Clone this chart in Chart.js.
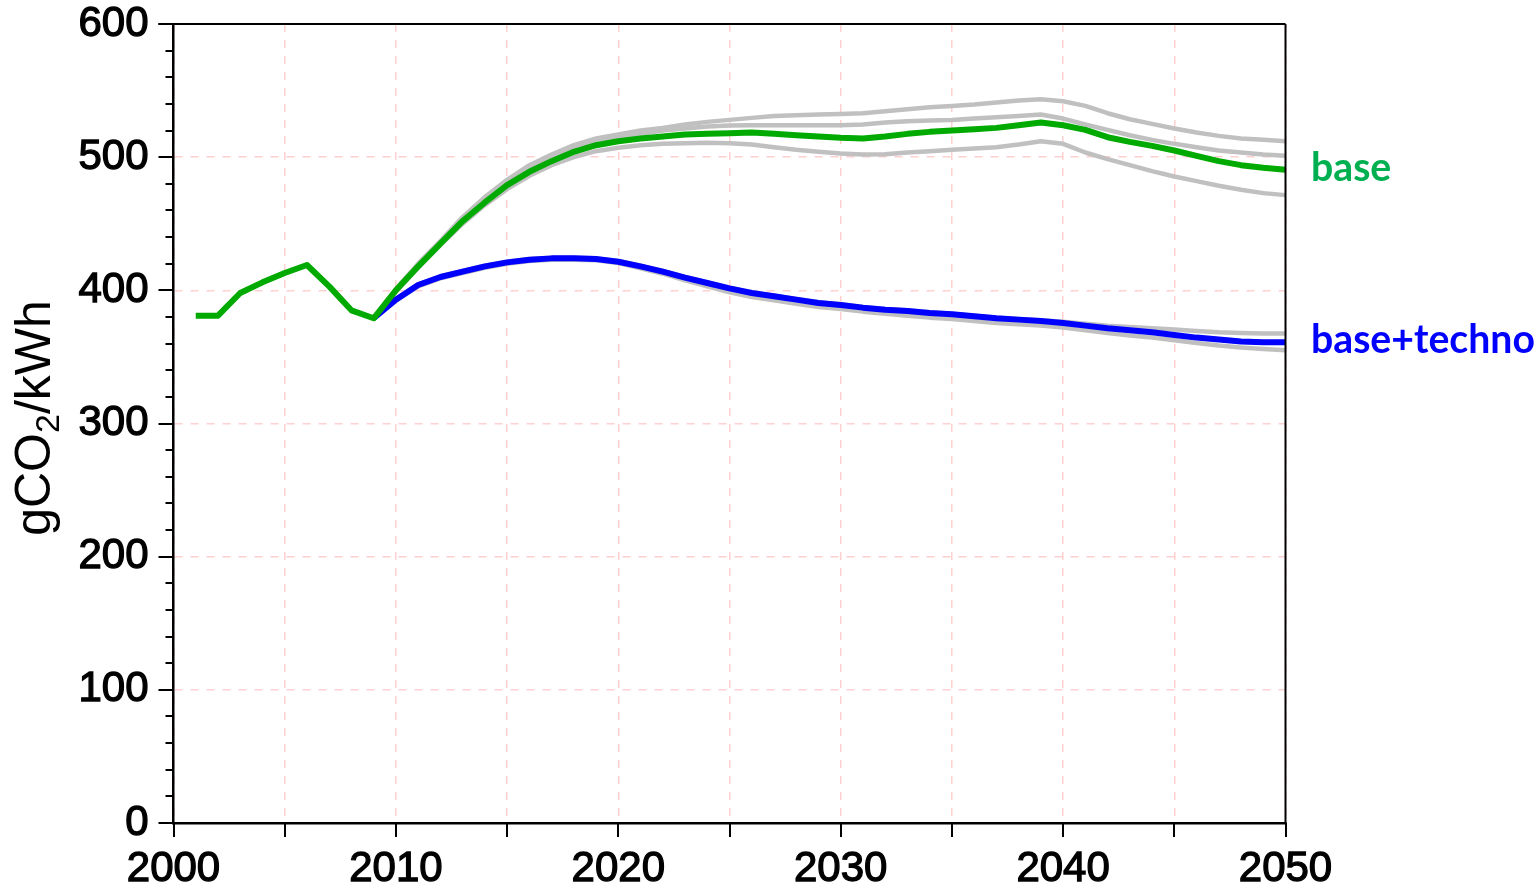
<!DOCTYPE html>
<html><head><meta charset="utf-8">
<script src="https://cdn.jsdelivr.net/npm/chart.js@4/dist/chart.umd.min.js"></script>
<style>html,body{margin:0;padding:0;background:#fff;overflow:hidden}canvas{display:block}</style>
</head><body><canvas id="c" width="1539" height="882"></canvas>
<script>
const years = [2001,2002,2003,2004,2005,2006,2007,2008,2009,2010,2011,2012,2013,2014,2015,2016,2017,2018,2019,2020,2021,2022,2023,2024,2025,2026,2027,2028,2029,2030,2031,2032,2033,2034,2035,2036,2037,2038,2039,2040,2041,2042,2043,2044,2045,2046,2047,2048,2049,2050];
const N8 = [null,null,null,null,null,null,null,null];
const base = [381,381,398,406,413,419,403,385,379,
  400,418,435,452,466,479,489,497,504,509,
  512,514,515.5,517,517.5,518,518.5,517.5,516.5,515.5,
  514.5,514,515.5,517.5,519,520,521,522,524,526,
  524,520.5,515,511.5,508.5,505,501,497,494,492,490.5];
const baseTechno = N8.concat([379,393,404,410,414,418,421,423,424,424,423.5,
  421.5,418,414,409.5,405.5,401.5,398,395.5,393,390.5,
  389,387,385.5,384.5,383,382,380.5,379,378,377,
  375.5,373.5,371.5,370,368.5,366.5,364.5,363,361.5,361,361]);
const baseRangeHi = N8.concat([379,401,420,437,455,470,483,494,502,509,514,
  517,520,522,524.5,526.5,528,529.5,531,531.5,532,
  532.5,533,534.5,536,537.5,538.5,539.5,541,542.5,543.5,
  542,538.5,533,528.5,525,521.5,518.5,516,514,513,512]);
const baseRangeMid = N8.concat([379,400,419,436,454,468,481,491,499,506,511,
  514.5,517.5,520,521.5,523,523.7,524,524,524,524,
  524,524.5,526,527,527.5,528,529,530,531,532,
  529,524.5,520.5,516.5,513,510,507.5,505,503.5,502,501]);
const baseRangeLo = N8.concat([379,399,417,434,450,464,476,486,494,500,504.5,
  507,509,510,510.5,510.8,510.5,509.5,507.5,505.5,504,
  502.7,502,502.2,503.5,504.5,505.5,506.5,507.5,509.5,512,
  510,503.5,498.5,494,489.5,485.5,482,478.5,475.5,473,471.5]);
const technoRangeHi = N8.concat([379,393.5,404.5,410.5,414.5,418.5,421.5,423.5,424.5,424.5,424,
  422,418.5,414.5,410,406,402,398.5,396,393.5,391,
  389.5,387.5,386,385,383.5,382.5,381,379.5,378.5,377.5,
  376.5,375,373.5,372.5,371.5,370.5,369.5,368.5,368,367.5,367.5]);
const technoRangeLo = N8.concat([379,392.5,403,409,413,417,420,422,423,423,422.5,
  420.5,416.5,412.5,407.5,403,398.5,395,392.5,390,387.5,
  386,384,382.5,381,379.5,378.5,377,375.5,374.5,373.5,
  372,370,368,366,364.5,362.5,360.5,358.5,357,356,355]);
const yTicks = [0,100,200,300,400,500,600];
const xTicks = [2000,2005,2010,2015,2020,2025,2030,2035,2040,2045,2050];
const seriesLabels = ['base','base+techno'];
const yTitle = ['gCO','2','/kWh'];

const pts = v => years.map((y,i)=>({x:y,y:v[i]})).filter(p=>p.y!==null);
const GREEN='#00aa00', BLUE='#0000ff', GRAY='#c0c0c0';
const mk = (v,color,w,order)=>({data:pts(v),borderColor:color,borderWidth:w,pointRadius:0,tension:0,fill:false,order:order,borderCapStyle:'butt',borderJoinStyle:'round'});

const extras = {
  id:'extras',
  afterDraw(chart){
    const ctx=chart.ctx, ca=chart.chartArea, xs=chart.scales.x, ys=chart.scales.y;
    ctx.save();
    ctx.strokeStyle='#000'; ctx.lineWidth=2;
    ctx.beginPath();
    ctx.moveTo(ca.left-15, ca.top); ctx.lineTo(ca.right, ca.top);
    ctx.moveTo(ca.right, ca.top); ctx.lineTo(ca.right, ca.bottom);
    ctx.stroke();
    ctx.beginPath();
    for(let v=0; v<=600; v+=20){
      const y=Math.round(ys.getPixelForValue(v));
      const len = (v%100===0)?15:8;
      ctx.moveTo(ca.left-len, y); ctx.lineTo(ca.left, y);
    }
    xTicks.forEach(t=>{const x=Math.round(xs.getPixelForValue(t)); ctx.moveTo(x,ca.bottom); ctx.lineTo(x,ca.bottom+14);});
    ctx.stroke();
    ctx.fillStyle='#000';
    ctx.translate(50, 418);
    ctx.rotate(-Math.PI/2);
    const big='50px "Liberation Sans", Arial, sans-serif', small='34px "Liberation Sans", Arial, sans-serif';
    ctx.font=big; const w1=ctx.measureText(yTitle[0]).width, w3=ctx.measureText(yTitle[2]).width;
    ctx.font=small; const w2=ctx.measureText(yTitle[1]).width;
    let x0=-(w1+w2+w3)/2;
    ctx.textBaseline='alphabetic'; ctx.textAlign='left';
    ctx.font=big; ctx.fillText(yTitle[0], x0, 0);
    ctx.font=small; ctx.fillText(yTitle[1], x0+w1, 9);
    ctx.font=big; ctx.fillText(yTitle[2], x0+w1+w2, 0);
    ctx.restore();
    ctx.save();
    ctx.textBaseline='middle'; ctx.textAlign='left';
    ctx.font='bold 38px Lato, "Open Sans", sans-serif';
    const tw=ctx.measureText(seriesLabels[1]).width;
    const fs=38*224/tw;
    ctx.font='bold '+fs.toFixed(1)+'px Lato, "Open Sans", sans-serif';
    ctx.fillStyle='#00b050'; ctx.fillText(seriesLabels[0], 1311, 168);
    ctx.fillStyle=BLUE; ctx.fillText(seriesLabels[1], 1311, 340);
    ctx.restore();
  }
};

const tickFont = {family:'"Liberation Sans", Arial, sans-serif',size:42,weight:'normal',lineHeight:1};
new Chart(document.getElementById('c'),{
  type:'line',
  data:{datasets:[
    mk(base,GREEN,6,1),
    mk(baseTechno,BLUE,6,2),
    mk(baseRangeHi,GRAY,4.5,5),
    mk(baseRangeMid,GRAY,4.5,5),
    mk(baseRangeLo,GRAY,4.5,5),
    mk(technoRangeHi,GRAY,4.5,5),
    mk(technoRangeLo,GRAY,4.5,5)
  ]},
  options:{
    responsive:false, animation:false, devicePixelRatio:1,
    layout:{padding:{top:24,right:253.5,left:0,bottom:0}},
    plugins:{legend:{display:false},tooltip:{enabled:false}},
    scales:{
      x:{type:'linear',min:2000,max:2050,
        afterFit(s){s.height=59;s.paddingLeft=0;s.paddingRight=0;},
        afterBuildTicks(s){s.ticks=xTicks.map(v=>({value:v}));},
        ticks:{autoSkip:false,maxRotation:0,padding:25,color:'#000',textStrokeColor:'#000',textStrokeWidth:1.3,
          font:tickFont,
          callback:v=>(v%10===0)?String(v):''},
        grid:{color:'#ffd0d0',lineWidth:1.5,drawTicks:false},
        border:{color:'#000',width:2.5,dash:[8,8]}
      },
      y:{min:0,max:600,
        afterFit(s){s.width=173.5;s.paddingTop=0;s.paddingBottom=0;},
        afterBuildTicks(s){s.ticks=yTicks.map(v=>({value:v}));},
        ticks:{padding:25,color:'#000',textStrokeColor:'#000',textStrokeWidth:1.3,
          font:tickFont},
        grid:{color:'#ffd0d0',lineWidth:1.5,drawTicks:false},
        border:{color:'#000',width:2.5,dash:[8,8]}
      }
    }
  },
  plugins:[extras]
});
</script></body></html>
